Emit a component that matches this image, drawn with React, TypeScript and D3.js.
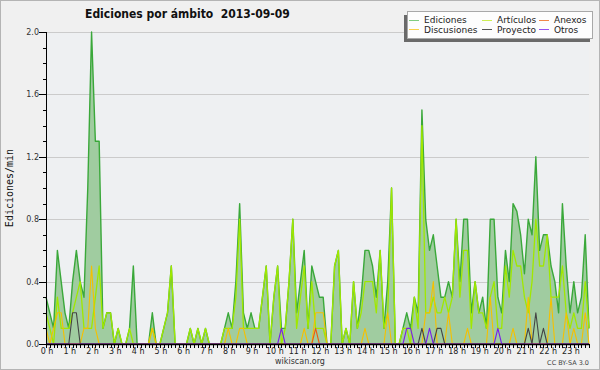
import React, { useEffect, useRef } from "react";
import * as d3 from "d3";

// edits per minute, one value per 10-minute slot (144 slots = 24 h)
const ediciones = [
  0.3, 0.2, 0.1, 0.6, 0.4, 0.2, 0.1, 0.4, 0.6, 0.4, 0.3, 1.0, 2.0, 1.3, 1.3, 0.1, 0.2, 0.2, 0, 0.1, 0, 0, 0.1, 0.5,
  0, 0, 0, 0, 0.2, 0, 0, 0.1, 0.2, 0.5, 0, 0, 0, 0, 0.1, 0, 0.1, 0, 0.1, 0, 0, 0, 0, 0.1,
  0.2, 0.1, 0.4, 0.9, 0.2, 0.1, 0.2, 0.1, 0.1, 0.3, 0.5, 0, 0.3, 0.5, 0.1, 0.1, 0.4, 0.8, 0.2, 0.4, 0.6, 0.1, 0.5, 0.4,
  0.3, 0.3, 0, 0, 0.5, 0.6, 0, 0.1, 0, 0.4, 0.1, 0.3, 0.6, 0.6, 0.5, 0.3, 0.6, 0.1, 0.4, 1.0, 0, 0, 0.1, 0.2,
  0.1, 0.3, 0.2, 1.5, 0.8, 0.6, 0.7, 0.5, 0.3, 0.3, 0.4, 0.3, 0.8, 0.4, 0.8, 0.8, 0.2, 0.4, 0.2, 0.3, 0.1, 0.8, 0.8, 0.3,
  0.2, 0.6, 0.4, 0.9, 0.85, 0.7, 0.45, 0.8, 0.7, 1.2, 0.6, 0.7, 0.7, 0.5, 0.4, 0.2, 0.9, 0.5, 0.2, 0.4, 0.2, 0.3, 0.7, 0.1,
];

const articulos = [
  0.2, 0.1, 0, 0.3, 0.1, 0.1, 0.1, 0.2, 0.3, 0.4, 0.1, 0.1, 0.1, 0.3, 0.5, 0.1, 0.2, 0.2, 0, 0.1, 0, 0, 0.1, 0,
  0, 0, 0, 0, 0.1, 0, 0, 0.1, 0.2, 0.5, 0, 0, 0, 0, 0.1, 0, 0.1, 0, 0.1, 0, 0, 0, 0, 0.1,
  0.1, 0.1, 0.3, 0.8, 0.1, 0.1, 0.1, 0.1, 0.1, 0.3, 0.5, 0, 0.3, 0.5, 0, 0.1, 0.4, 0.8, 0.1, 0.3, 0.5, 0.1, 0.4, 0.1,
  0.1, 0.1, 0, 0, 0.5, 0.6, 0, 0.1, 0, 0.4, 0.1, 0.2, 0.4, 0.4, 0.4, 0.2, 0.6, 0.1, 0.2, 1.0, 0, 0, 0.1, 0.1,
  0, 0.3, 0.1, 1.4, 0.2, 0.2, 0.3, 0.2, 0.2, 0.3, 0.2, 0.3, 0.8, 0.3, 0.6, 0.6, 0.1, 0.4, 0.2, 0.2, 0.1, 0.3, 0.4, 0.1,
  0.1, 0.5, 0.3, 0.6, 0.5, 0.5, 0.3, 0.2, 0.4, 0.8, 0.5, 0.5, 0.7, 0.3, 0.3, 0.3, 0.5, 0.2, 0.1, 0.2, 0.1, 0.1, 0.4, 0.1,
];

const discusiones = [
  0.1, 0, 0.1, 0.2, 0.2, 0, 0, 0, 0, 0, 0.1, 0.1, 0.5, 0.1, 0, 0, 0, 0, 0, 0, 0, 0, 0, 0,
  0, 0, 0, 0, 0.1, 0, 0, 0, 0, 0, 0, 0, 0, 0, 0, 0, 0, 0, 0, 0, 0, 0, 0, 0,
  0.1, 0, 0, 0.1, 0.1, 0, 0, 0, 0, 0, 0, 0, 0, 0, 0, 0, 0, 0, 0, 0, 0.1, 0, 0, 0.2,
  0.2, 0.2, 0, 0, 0, 0, 0, 0, 0, 0, 0, 0, 0.1, 0, 0, 0, 0, 0, 0.2, 0, 0, 0, 0, 0,
  0, 0, 0, 0, 0.2, 0.2, 0.4, 0, 0, 0, 0.2, 0, 0, 0, 0, 0.1, 0, 0, 0, 0, 0, 0.3, 0, 0,
  0, 0, 0, 0.1, 0, 0, 0, 0.3, 0, 0, 0, 0, 0, 0.3, 0, 0, 0, 0.2, 0, 0.1, 0, 0, 0.2, 0,
];

const anexos = [
  0, 0, 0, 0, 0, 0, 0, 0, 0, 0, 0, 0, 0, 0, 0, 0, 0, 0, 0, 0, 0, 0, 0, 0,
  0, 0, 0, 0, 0, 0, 0, 0, 0, 0, 0, 0, 0, 0, 0, 0, 0, 0, 0, 0, 0, 0, 0, 0,
  0, 0, 0, 0, 0, 0, 0, 0, 0, 0, 0, 0, 0, 0, 0, 0, 0, 0, 0, 0, 0, 0, 0, 0.1,
  0, 0, 0, 0, 0, 0, 0, 0, 0, 0, 0, 0, 0, 0, 0, 0, 0, 0, 0, 0, 0, 0, 0, 0,
  0, 0, 0, 0, 0, 0, 0, 0, 0, 0, 0, 0, 0, 0, 0, 0, 0, 0, 0, 0, 0, 0, 0, 0,
  0, 0, 0, 0, 0, 0, 0, 0, 0, 0, 0, 0, 0, 0, 0, 0, 0, 0, 0, 0, 0, 0, 0, 0,
];

const proyecto = [
  0, 0, 0, 0, 0, 0, 0, 0.2, 0.2, 0, 0, 0, 0, 0, 0, 0, 0, 0, 0, 0, 0, 0, 0, 0,
  0, 0, 0, 0, 0, 0, 0, 0, 0, 0, 0, 0, 0, 0, 0, 0, 0, 0, 0, 0, 0, 0, 0, 0,
  0, 0, 0, 0, 0, 0, 0, 0, 0, 0, 0, 0, 0, 0, 0, 0, 0, 0, 0, 0, 0, 0, 0, 0,
  0, 0, 0, 0, 0, 0, 0, 0, 0, 0, 0, 0, 0, 0, 0, 0, 0, 0, 0, 0, 0, 0, 0, 0,
  0, 0, 0, 0.1, 0, 0, 0, 0.1, 0.1, 0, 0, 0, 0, 0, 0, 0, 0, 0, 0, 0, 0, 0, 0, 0,
  0, 0, 0, 0, 0, 0, 0, 0.1, 0, 0.2, 0, 0.1, 0, 0, 0, 0, 0, 0, 0, 0, 0, 0, 0, 0,
];

const otros = [
  0, 0, 0, 0, 0, 0, 0, 0, 0, 0, 0, 0, 0, 0, 0, 0, 0, 0, 0, 0, 0, 0, 0, 0,
  0, 0, 0, 0, 0, 0, 0, 0, 0, 0, 0, 0, 0, 0, 0, 0, 0, 0, 0, 0, 0, 0, 0, 0,
  0, 0, 0, 0, 0, 0, 0, 0, 0, 0, 0, 0, 0, 0, 0.1, 0, 0, 0, 0, 0, 0, 0, 0, 0,
  0, 0, 0, 0, 0, 0, 0, 0, 0, 0, 0, 0, 0, 0, 0, 0, 0, 0, 0, 0, 0, 0, 0, 0.1,
  0.1, 0, 0, 0, 0, 0.1, 0, 0, 0, 0, 0, 0, 0, 0, 0, 0, 0, 0, 0, 0, 0, 0, 0, 0.1,
  0, 0, 0, 0, 0, 0, 0, 0, 0, 0, 0, 0, 0, 0, 0, 0, 0, 0, 0, 0, 0, 0, 0, 0,
];

const hourLabels = [
  "0 h", "1 h", "2 h", "3 h", "4 h", "5 h", "6 h", "7 h", "8 h", "9 h", "10 h", "11 h",
  "12 h", "13 h", "14 h", "15 h", "16 h", "17 h", "18 h", "19 h", "20 h", "21 h", "22 h", "23 h",
];
const yTicks = [0, 0.4, 0.8, 1.2, 1.6, 2.0];

const EditsChart = () => {
  const svgRef = useRef<SVGSVGElement>(null);

  useEffect(() => {
    const svg = d3.select(svgRef.current);
    svg.selectAll("*").remove();

    const width = 600;
    const height = 370;
    const margin = { top: 32, right: 11, bottom: 26, left: 46 };
    const font = "DejaVu Sans, sans-serif";

    svg.append("rect")
      .attr("x", 0.5).attr("y", 0.5)
      .attr("width", width - 1).attr("height", height - 1)
      .attr("fill", "#f0f0f0").attr("stroke", "#b4b4b4");

    const x = d3.scaleLinear()
      .domain([0, ediciones.length - 1])
      .range([margin.left, width - margin.right]);
    const y = d3.scaleLinear()
      .domain([0, 2])
      .range([height - margin.bottom, margin.top]);

    svg.append("rect")
      .attr("x", x(0)).attr("y", y(2))
      .attr("width", x(143) - x(0)).attr("height", y(0) - y(2))
      .attr("fill", "#eef0f2");

    // grid
    svg.selectAll(".grid")
      .data(yTicks.filter(d => d > 0))
      .enter().append("line")
      .attr("x1", x(0)).attr("x2", x(143))
      .attr("y1", d => Math.round(y(d)) + 0.5).attr("y2", d => Math.round(y(d)) + 0.5)
      .attr("stroke", "#cbcbcb");

    // edits area + line
    const area = d3.area<number>()
      .x((d, i) => x(i))
      .y0(y(0))
      .y1(d => y(d));
    svg.append("path")
      .datum(ediciones)
      .attr("d", area)
      .attr("fill", "#a0cca0");

    const line = d3.line<number>()
      .x((d, i) => x(i))
      .y(d => y(d));

    const series = [
      { values: ediciones, color: "#3aa83a", w: 1.4 },
      { values: articulos, color: "#a0e800", w: 1.3 },
      { values: discusiones, color: "#f5c000", w: 1.1 },
      { values: anexos, color: "#ee5a10", w: 1.1 },
      { values: proyecto, color: "#444444", w: 1.1 },
      { values: otros, color: "#7a1ee8", w: 1.1 },
    ];
    series.forEach(s => {
      svg.append("path")
        .datum(s.values)
        .attr("fill", "none")
        .attr("stroke", s.color)
        .attr("stroke-width", s.w)
        .attr("stroke-linejoin", "round")
        .attr("d", line);
    });

    // y axis
    const yAxis = svg.append("g");
    yAxis.append("line")
      .attr("x1", margin.left + 0.5).attr("x2", margin.left + 0.5)
      .attr("y1", y(2)).attr("y2", y(0))
      .attr("stroke", "#000");
    yAxis.selectAll(".minor")
      .data(d3.range(0, 21))
      .enter().append("line")
      .attr("x1", d => (d % 4 === 0 ? margin.left - 7 : margin.left - 3))
      .attr("x2", margin.left)
      .attr("y1", d => Math.round(y(d / 10)) + 0.5)
      .attr("y2", d => Math.round(y(d / 10)) + 0.5)
      .attr("stroke", "#000");
    yAxis.selectAll(".lbl")
      .data(yTicks)
      .enter().append("text")
      .attr("x", margin.left - 7)
      .attr("y", d => y(d) + 3)
      .attr("text-anchor", "end")
      .attr("font-family", font).attr("font-size", 8)
      .attr("fill", "#333")
      .text(d => d.toFixed(1));

    // x axis
    const xAxis = svg.append("g");
    xAxis.append("line")
      .attr("x1", x(0)).attr("x2", x(143))
      .attr("y1", y(0) + 0.5).attr("y2", y(0) + 0.5)
      .attr("stroke", "#000").attr("stroke-width", 1.3);
    xAxis.selectAll(".tick")
      .data(d3.range(0, 144))
      .enter().append("line")
      .attr("x1", d => Math.round(x(d)) + 0.5).attr("x2", d => Math.round(x(d)) + 0.5)
      .attr("y1", y(0)).attr("y2", y(0) + 4)
      .attr("stroke", "#000");
    xAxis.selectAll(".hl")
      .data(hourLabels)
      .enter().append("text")
      .attr("x", (d, i) => x(i * 6) + 1)
      .attr("y", y(0) + 10)
      .attr("text-anchor", "middle")
      .attr("font-family", font).attr("font-size", 8)
      .attr("fill", "#222")
      .text(d => d);

    // titles
    svg.append("text")
      .attr("x", 85).attr("y", 17.5)
      .attr("font-family", "DejaVu Sans Condensed, DejaVu Sans, sans-serif")
      .attr("font-weight", "bold").attr("font-size", 12)
      .attr("xml:space", "preserve")
      .attr("fill", "#111")
      .text("Ediciones por ámbito  2013-09-09");

    svg.append("text")
      .attr("transform", "translate(13,188) rotate(-90)")
      .attr("text-anchor", "middle")
      .attr("font-family", "DejaVu Sans Mono, monospace").attr("font-size", 10)
      .attr("fill", "#111")
      .text("Ediciones/min");

    svg.append("text")
      .attr("x", 300).attr("y", 364)
      .attr("text-anchor", "middle")
      .attr("font-family", font).attr("font-size", 8)
      .attr("fill", "#333")
      .text("wikiscan.org");
    svg.append("text")
      .attr("x", 589).attr("y", 365)
      .attr("text-anchor", "end")
      .attr("font-family", font).attr("font-size", 6.5)
      .attr("fill", "#444")
      .text("CC BY-SA 3.0");

    // legend
    const legend = [
      { name: "Ediciones", color: "#80cc80", col: 0, row: 0 },
      { name: "Artículos", color: "#cdee55", col: 1, row: 0 },
      { name: "Anexos", color: "#f08848", col: 2, row: 0 },
      { name: "Discusiones", color: "#f8d048", col: 0, row: 1 },
      { name: "Proyecto", color: "#555555", col: 1, row: 1 },
      { name: "Otros", color: "#9650ee", col: 2, row: 1 },
    ];
    const colX = [409, 482, 539];
    const rowY = [19.5, 29];
    svg.append("rect")
      .attr("x", 404).attr("y", 15).attr("width", 186).attr("height", 27)
      .attr("fill", "#6a6a6a");
    svg.append("rect")
      .attr("x", 407.5).attr("y", 11.5).attr("width", 185).attr("height", 27)
      .attr("fill", "#fdfdfd").attr("stroke", "#a8a8a8");
    legend.forEach(l => {
      svg.append("line")
        .attr("x1", colX[l.col]).attr("x2", colX[l.col] + 10)
        .attr("y1", Math.round(rowY[l.row]) + 0.5).attr("y2", Math.round(rowY[l.row]) + 0.5)
        .attr("stroke", l.color);
      svg.append("text")
        .attr("x", colX[l.col] + 15).attr("y", rowY[l.row] + 3.5)
        .attr("font-family", font).attr("font-size", 9)
        .attr("fill", "#222")
        .text(l.name);
    });
  }, []);

  return (
    <svg
      ref={svgRef}
      width={600}
      height={370}
      style={{ position: "absolute", left: 0, top: 0 }}
    ></svg>
  );
};

export default function App() {
  return <EditsChart />;
}
